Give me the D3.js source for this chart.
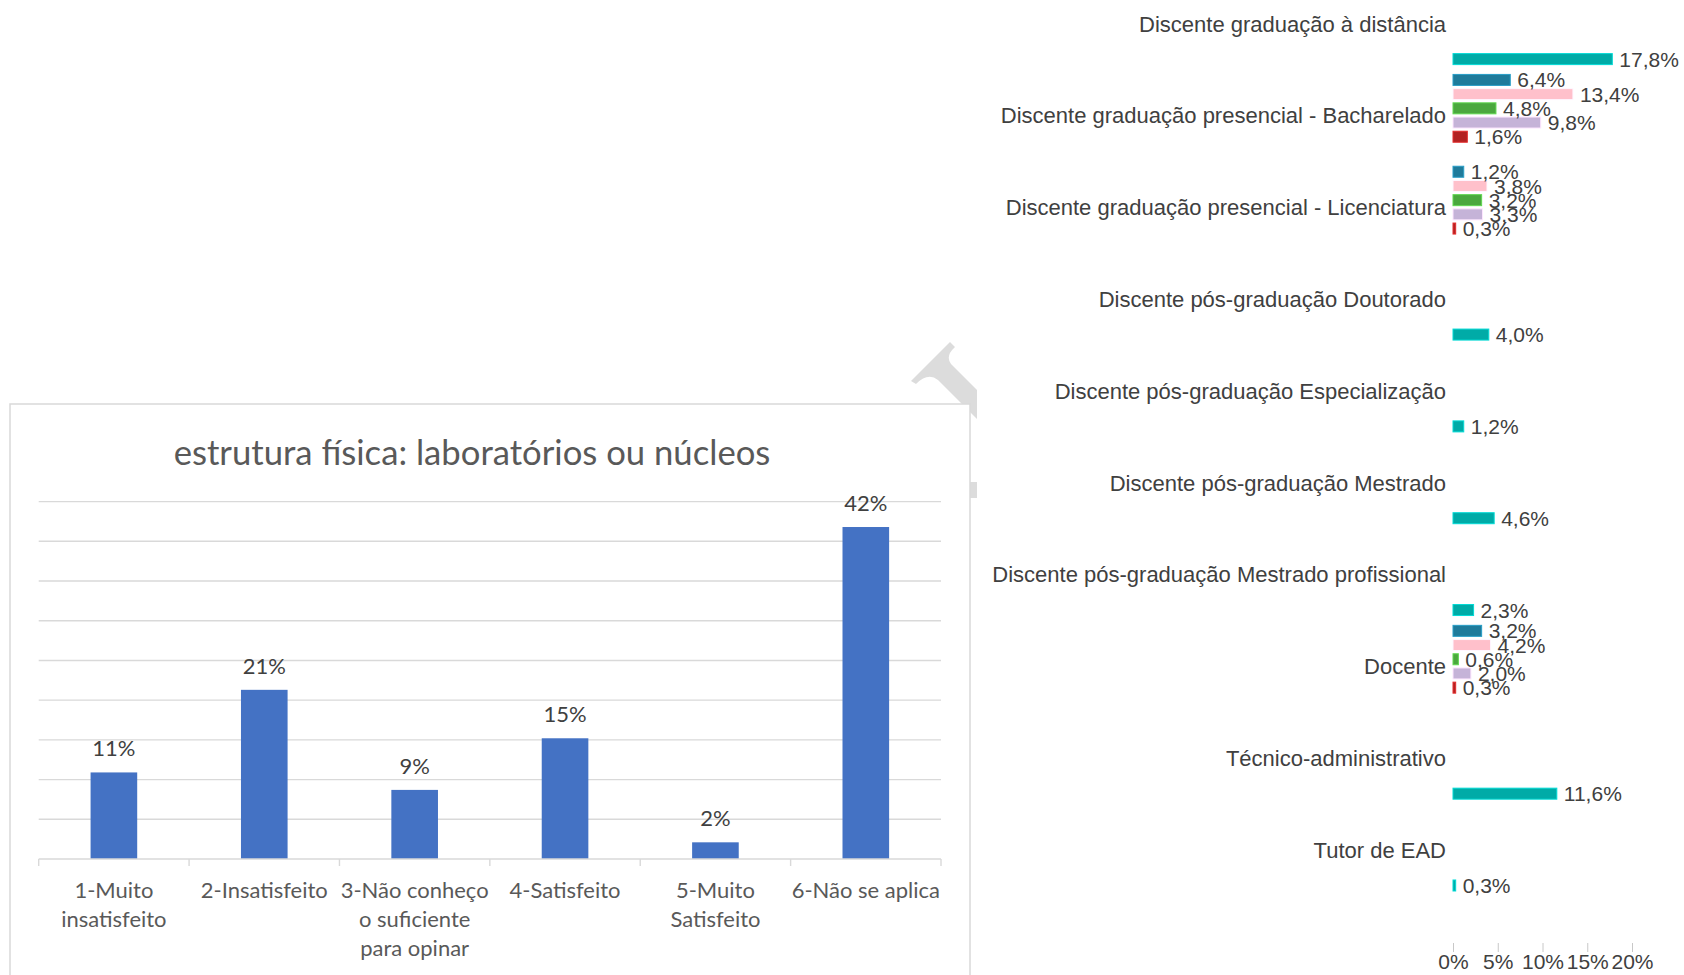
<!DOCTYPE html>
<html><head><meta charset="utf-8">
<script src="https://cdn.jsdelivr.net/npm/d3@7"></script>
<style>html,body{margin:0;padding:0;background:#fff}svg{display:block}</style>
</head><body>
<svg id="c" width="1684" height="975"></svg>
<script>
// ---------- Left chart data ----------
const satTitle = "estrutura física: laboratórios ou núcleos";
const satCategories = ["1-Muito insatisfeito","2-Insatisfeito","3-Não conheço o suficiente para opinar","4-Satisfeito","5-Muito Satisfeito","6-Não se aplica"];
const satLabelLines = [["1-Muito","insatisfeito"],["2-Insatisfeito"],["3-Não conheço","o suficiente","para opinar"],["4-Satisfeito"],["5-Muito","Satisfeito"],["6-Não se aplica"]];
const satValues = [0.109, 0.213, 0.087, 0.152, 0.021, 0.418];
const satGridTicks = [0.05,0.10,0.15,0.20,0.25,0.30,0.35,0.40,0.45];

// ---------- Right chart data ----------
const groups = ["Discente graduação à distância","Discente graduação presencial - Bacharelado","Discente graduação presencial - Licenciatura","Discente pós-graduação Doutorado","Discente pós-graduação Especialização","Discente pós-graduação Mestrado","Discente pós-graduação Mestrado profissional","Docente","Técnico-administrativo","Tutor de EAD"];
const seriesNames = ["Série A","Série B","Série C","Série D","Série E","Série F"];
const seriesColors = ["#1f7b9b","#ffc0cb","#4ba83e","#c5b3d8","#b22222","#00aba7"];
const serieA = [null, 6.4, 1.2, null, null, null, null, 3.2, null, null];
const serieB = [null, 13.4, 3.8, null, null, null, null, 4.2, null, null];
const serieC = [null, 4.8, 3.2, null, null, null, null, 0.6, null, null];
const serieD = [null, 9.8, 3.3, null, null, null, null, 2.0, null, null];
const serieE = [null, 1.6, 0.3, null, null, null, null, 0.3, null, null];
const serieF = [17.8, null, null, 4.0, 1.2, 4.6, 2.3, null, 11.6, 0.3];
const xTicks = [0,5,10,15,20];

const svg = d3.select("#c");
svg.append("rect").attr("width",1684).attr("height",975).attr("fill","#fff");

function fitSize(text, family, target){
  const t = svg.append("text").attr("font-family",family).attr("font-size",100).text(text);
  const w = t.node().getComputedTextLength(); t.remove();
  return 100*target/w;
}

// ---------- watermark (decorative, behind the left chart box) ----------
const defs = svg.append("defs");
defs.append("clipPath").attr("id","wmclip").append("rect").attr("x",0).attr("y",0).attr("width",977).attr("height",975);
const wm = svg.append("g").attr("clip-path","url(#wmclip)").attr("fill","#dcdcdc");
wm.append("path").attr("d","M950,342 L955,347 Q945,356 951,364 L1000,413 L1000,442 L938,380 Q928,372 916,384 L911,381 Z");
wm.append("rect").attr("x",962).attr("y",482).attr("width",20).attr("height",16);

// ---------- Left chart ----------
const L = svg.append("g");
L.append("rect").attr("x",10).attr("y",404).attr("width",960).attr("height",620)
  .attr("fill","#fff").attr("stroke","#d9d9d9").attr("stroke-width",1.5);

const lf = "Lato, 'Open Sans', sans-serif";
const titleSize = fitSize(satTitle, lf, 597);
const lblSize = fitSize("2-Insatisfeito", lf, 127);

L.append("text").attr("x",472).attr("y",456 + 0.27*titleSize).attr("text-anchor","middle")
  .attr("font-family",lf).attr("font-size",titleSize).attr("fill","#595959").text(satTitle);

const x0 = 38.7, x1 = 941, yBase = 859, yTop = 501.6;
const y = d3.scaleLinear().domain([0,0.45]).range([yBase, yTop]);
const xAxisBand = d3.scaleBand().domain(satCategories).range([x0,x1]).padding(0);
const xBar = d3.scaleBand().domain(satCategories).range([x0,x1]).paddingInner(0.69).paddingOuter(0.345);

L.append("g").selectAll("line").data(satGridTicks).join("line")
  .attr("x1",x0).attr("x2",x1).attr("y1",d=>y(d)).attr("y2",d=>y(d))
  .attr("stroke","#d9d9d9").attr("stroke-width",1.4);

L.append("g").selectAll("rect").data(satValues).join("rect")
  .attr("x",(d,i)=>xBar(satCategories[i])).attr("width",xBar.bandwidth())
  .attr("y",d=>y(d)).attr("height",d=>yBase-y(d)).attr("fill","#4472c4");

// axis
L.append("line").attr("x1",x0).attr("x2",x1).attr("y1",yBase).attr("y2",yBase).attr("stroke","#d9d9d9").attr("stroke-width",1.4);
const bounds = satCategories.map(c=>xAxisBand(c)).concat([x1]);
L.append("g").selectAll("line").data(bounds).join("line")
  .attr("x1",d=>d).attr("x2",d=>d).attr("y1",yBase).attr("y2",yBase+7).attr("stroke","#d9d9d9").attr("stroke-width",1.4);

// data labels
L.append("g").selectAll("text").data(satValues).join("text")
  .attr("x",(d,i)=>xBar(satCategories[i])+xBar.bandwidth()/2).attr("y",d=>y(d)-16)
  .attr("text-anchor","middle").attr("font-family",lf).attr("font-size",lblSize).attr("fill","#404040")
  .text(d=>Math.round(d*100)+"%");

// category labels
const catG = L.append("g");
satLabelLines.forEach((lines,i)=>{
  const cx = xAxisBand(satCategories[i]) + xAxisBand.bandwidth()/2;
  const t = catG.append("text").attr("text-anchor","middle").attr("font-family",lf)
    .attr("font-size",lblSize).attr("fill","#595959");
  lines.forEach((ln,j)=>{
    t.append("tspan").attr("x",cx).attr("y",891 + 29*j + 0.3*lblSize).text(ln);
  });
});

// ---------- Right chart ----------
const R = svg.append("g");
const rf = "'Liberation Sans', Arial, sans-serif";
const seriesData = [serieA, serieB, serieC, serieD, serieE, serieF];
const xr = d3.scaleLinear().domain([0,20]).range([1453,1632]);
const yOuter = d3.scaleBand().domain(groups).range([23.6-45.9, 850+45.9]).padding(0);
const yInner = d3.scaleBand().domain(seriesNames).range([-42.6,42.6]).paddingInner(0.225).paddingOuter(0.1125);
const gc = g => yOuter(g) + yOuter.bandwidth()/2;

R.append("g").selectAll("text").data(groups).join("text")
  .attr("x",1446).attr("y",d=>gc(d)).attr("dy","0.36em").attr("text-anchor","end")
  .attr("font-family",rf).attr("font-size",22).attr("fill","#404040").text(d=>d);

const fmt = v => d3.format(".1f")(v).replace(".",",") + "%";
const barData = [];
seriesData.forEach((arr,si)=>arr.forEach((v,gi)=>{ if(v!=null) barData.push({s:seriesNames[si], color:seriesColors[si], g:groups[gi], v}); }));

R.append("g").selectAll("rect").data(barData).join("rect")
  .attr("x",xr(0)).attr("width",d=>xr(d.v)-xr(0))
  .attr("y",d=>gc(d.g)+yInner(d.s)).attr("height",yInner.bandwidth())
  .attr("fill",d=>d.color).attr("stroke",d=>d3.color(d.color).brighter(0.7)).attr("stroke-width",1);

R.append("g").selectAll("text").data(barData).join("text")
  .attr("x",d=>xr(d.v)+7).attr("y",d=>gc(d.g)+yInner(d.s)+yInner.bandwidth()/2).attr("dy","0.36em")
  .attr("font-family",rf).attr("font-size",21).attr("fill","#404040").text(d=>fmt(d.v));

const ax = R.append("g").attr("transform","translate(0,943)")
  .call(d3.axisBottom(xr).tickValues(xTicks).tickFormat(d=>d+"%").tickSize(9).tickPadding(2));
ax.select(".domain").remove();
ax.selectAll(".tick line").attr("stroke","#c8c8c8");
ax.selectAll(".tick text").attr("font-family",rf).attr("font-size",21).attr("fill","#404040");
</script>
</body></html>
